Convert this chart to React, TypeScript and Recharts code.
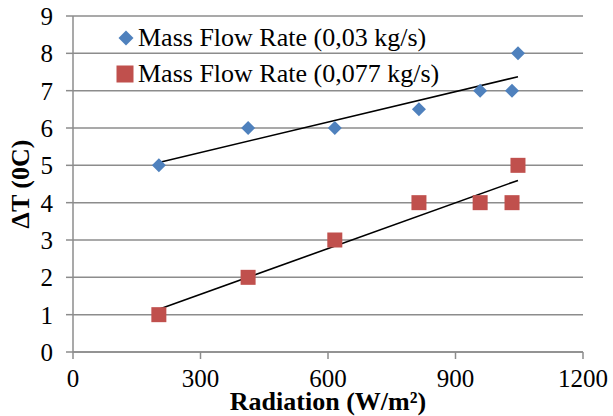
import React from 'react';
import {
  ScatterChart, Scatter, XAxis, YAxis, CartesianGrid, Legend
} from 'recharts';

const radiation = [202, 412, 616, 814, 958, 1033, 1047];
const deltaT003 = [5, 6, 6, 6.5, 7, 7, 8];
const deltaT0077 = [1, 2, 3, 4, 4, 4, 5];
const seriesNames = ['Mass Flow Rate (0,03 kg/s)', 'Mass Flow Rate (0,077 kg/s)'];
const xTicks = [0, 300, 600, 900, 1200];
const yTicks = [0, 1, 2, 3, 4, 5, 6, 7, 8, 9];

const BLUE = '#4F81BD';
const RED = '#C0504D';
const AXIS = '#8C8C8C';
const FONT = '"Liberation Serif", serif';

// least-squares trend line over the measured points
const linearTrend = (xs: number[], ys: number[]) => {
  const n = xs.length;
  const mx = xs.reduce((a, b) => a + b, 0) / n;
  const my = ys.reduce((a, b) => a + b, 0) / n;
  let sxy = 0;
  let sxx = 0;
  xs.forEach((x, i) => {
    sxy += (x - mx) * (ys[i] - my);
    sxx += (x - mx) * (x - mx);
  });
  const slope = sxy / sxx;
  const x0 = Math.min(...xs);
  const x1 = Math.max(...xs);
  return [
    { x: x0, y: my + slope * (x0 - mx) },
    { x: x1, y: my + slope * (x1 - mx) },
  ];
};

const toPoints = (xs: number[], ys: number[]) => xs.map((x, i) => ({ x, y: ys[i] }));

const Diamond = (props: any) => {
  const { cx, cy } = props;
  const r = 7;
  return <path d={`M${cx},${cy - r}L${cx + r},${cy}L${cx},${cy + r}L${cx - r},${cy}Z`} fill={BLUE} />;
};

const Square = (props: any) => {
  const { cx, cy } = props;
  const s = 15;
  return <rect x={cx - s / 2} y={cy - s / 2} width={s} height={s} fill={RED} />;
};

const LegendBox = () => (
  <div style={{ fontFamily: FONT, fontSize: 26, color: '#000', lineHeight: '36px', whiteSpace: 'nowrap' }}>
    <div style={{ display: 'flex', alignItems: 'center' }}>
      <svg width={18} height={18} style={{ marginRight: 4 }}>
        <path d="M10,1.5L17.5,9L10,16.5L2.5,9Z" fill={BLUE} />
      </svg>
      {seriesNames[0]}
    </div>
    <div style={{ display: 'flex', alignItems: 'center' }}>
      <svg width={18} height={18} style={{ marginRight: 4 }}>
        <rect x={0.5} y={0.5} width={17} height={17} fill={RED} />
      </svg>
      {seriesNames[1]}
    </div>
  </div>
);

export default function App() {
  const tickStyle = { style: { fontFamily: FONT, fontSize: 25, fill: '#000' } };
  const titleStyle = { fontFamily: FONT, fontSize: 26, fontWeight: 'bold', fill: '#000' };
  return (
    <div style={{ position: 'absolute', left: 0, top: 0, background: '#fff' }}>
      <ScatterChart width={613} height={416} margin={{ top: 16, right: 30, bottom: 0, left: 0 }}>
        <CartesianGrid horizontal vertical={false} stroke={AXIS} strokeWidth={1.5} />
        <XAxis
          type="number"
          dataKey="x"
          domain={[0, 1200]}
          ticks={xTicks}
          tick={tickStyle}
          tickSize={7}
          tickMargin={10}
          height={64}
          stroke={AXIS}
          strokeWidth={1.5}
          label={{ value: 'Radiation (W/m²)', position: 'insideBottom', offset: 6, style: titleStyle }}
        />
        <YAxis
          type="number"
          dataKey="y"
          domain={[0, 9]}
          ticks={yTicks}
          tick={tickStyle}
          tickSize={7}
          tickMargin={13}
          width={73}
          stroke={AXIS}
          strokeWidth={1.5}
          label={{ value: 'ΔT (0C)', angle: -90, position: 'insideLeft', offset: 20,
            style: { ...titleStyle, textAnchor: 'middle' } }}
        />
        <Legend
          layout="vertical"
          verticalAlign="middle"
          align="center"
          wrapperStyle={{ left: 116, top: 20, width: 380 }}
          content={() => <LegendBox />}
        />
        <Scatter
          data={linearTrend(radiation, deltaT003)}
          line={{ stroke: '#000', strokeWidth: 1.6 }}
          shape={() => null}
          legendType="none"
          isAnimationActive={false}
        />
        <Scatter
          data={linearTrend(radiation, deltaT0077)}
          line={{ stroke: '#000', strokeWidth: 1.6 }}
          shape={() => null}
          legendType="none"
          isAnimationActive={false}
        />
        <Scatter name={seriesNames[0]} data={toPoints(radiation, deltaT003)} shape={Diamond} isAnimationActive={false} />
        <Scatter name={seriesNames[1]} data={toPoints(radiation, deltaT0077)} shape={Square} isAnimationActive={false} />
      </ScatterChart>
    </div>
  );
}
